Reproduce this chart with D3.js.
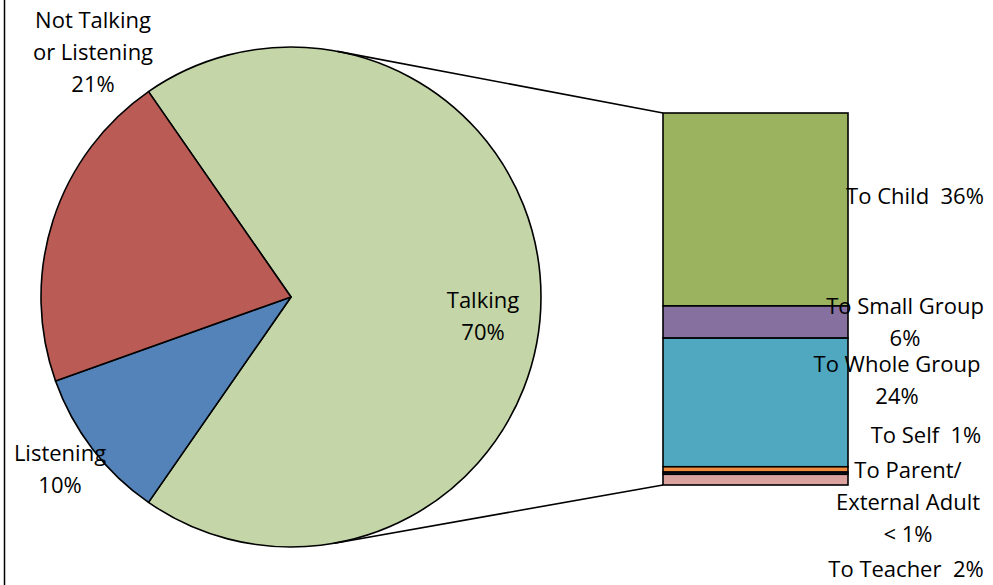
<!DOCTYPE html>
<html>
<head>
<meta charset="utf-8">
<script src="https://cdn.jsdelivr.net/npm/d3@7"></script>
<style>
  html, body { margin: 0; padding: 0; background: #fff; }
  svg text { font-family: "Open Sans", Lato, sans-serif; font-size: 22px; fill: #000; }
</style>
</head>
<body>
<svg id="chart" width="993" height="585"></svg>
<script>
// Pie: share of time by activity
const pieCategories = ["Talking", "Listening", "Not Talking or Listening"];
const pieValues = [70, 10, 21];
const pieLabels = [["Talking", "70%"], ["Listening", "10%"], ["Not Talking", "or Listening", "21%"]];
const pieColors = ["#C4D6A8", "#5383B8", "#BA5B55"];

// Stacked bar: breakdown of "Talking"
const barCategories = ["To Child", "To Small Group", "To Whole Group", "To Self", "To Parent/External Adult", "To Teacher"];
const barValues = [36, 6, 24, 1, 0.4, 2];
const barLabels = [["To Child  36%"], ["To Small Group", "6%"], ["To Whole Group", "24%"], ["To Self  1%"], ["To Parent/", "External Adult", "< 1%"], ["To Teacher  2%"]];
const barColors = ["#9BB25F", "#8570A0", "#4FA8C0", "#F08A3C", "#2E4A78", "#DBA29E"];

// Layout
const W = 993, H = 585;
const cx = 291, cy = 297, R = 250;
const barX0 = 663, barX1 = 848, barTop = 113, barBottom = 485;
const lineH = 32;
const pieLabelPos = [[483, 300], [60, 453], [93, 20]];
const barLabelPos = [[915, 196], [905, 306], [897, 364], [926, 435], [908, 470], [906, 569]];

const svg = d3.select("#chart");
svg.append("rect").attr("width", W).attr("height", H).attr("fill", "#fff");
svg.append("line").attr("x1", 4.5).attr("x2", 4.5).attr("y1", 0).attr("y2", H)
  .attr("stroke", "#000").attr("stroke-width", 1.5);

// Pie, with the Talking slice centred on the 3 o'clock direction
const total = d3.sum(pieValues);
const talkSpan = pieValues[0] / total * 2 * Math.PI;
const pie = d3.pie().sort(null).value(d => d)
  .startAngle(Math.PI / 2 - talkSpan / 2)
  .endAngle(Math.PI / 2 - talkSpan / 2 + 2 * Math.PI);
const arc = d3.arc().innerRadius(0).outerRadius(R);
const g = svg.append("g").attr("transform", `translate(${cx},${cy})`);
g.selectAll("path").data(pie(pieValues)).join("path")
  .attr("d", arc)
  .attr("fill", (d, i) => pieColors[i])
  .attr("stroke", "#000").attr("stroke-width", 1.6).attr("stroke-linejoin", "round");

// Bar
const y = d3.scaleLinear().domain([0, d3.sum(barValues)]).range([barTop, barBottom]);
const stacked = [];
let acc = 0;
barValues.forEach((v, i) => { stacked.push({ i, y0: acc, y1: acc + v }); acc += v; });
svg.selectAll("rect.seg").data(stacked).join("rect").attr("class", "seg")
  .attr("x", barX0).attr("width", barX1 - barX0)
  .attr("y", d => y(d.y0)).attr("height", d => y(d.y1) - y(d.y0))
  .attr("fill", d => barColors[d.i])
  .attr("stroke", "#000").attr("stroke-width", 1.6);

// Connector lines: tangent from each bar corner to the pie
function tangent(px, py, upper) {
  const dx = px - cx, dy = py - cy;
  const d = Math.hypot(dx, dy);
  const base = Math.atan2(dy, dx);
  const off = Math.acos(R / d);
  const a = upper ? base - off : base + off;
  return [cx + R * Math.cos(a), cy + R * Math.sin(a)];
}
[[barX0, y(0), true], [barX0, y(d3.sum(barValues)), false]].forEach(([px, py, up]) => {
  const t = tangent(px, py, up);
  svg.append("line").attr("x1", t[0]).attr("y1", t[1]).attr("x2", px).attr("y2", py)
    .attr("stroke", "#000").attr("stroke-width", 1.6);
});

// Labels
function drawLabel(lines, pos) {
  const t = svg.append("text").attr("text-anchor", "middle");
  lines.forEach((s, k) => {
    t.append("tspan").attr("x", pos[0]).attr("y", pos[1] + k * lineH).attr("dy", "0.35em")
      .style("white-space", "pre").text(s);
  });
}
pieLabels.forEach((l, i) => drawLabel(l, pieLabelPos[i]));
barLabels.forEach((l, i) => drawLabel(l, barLabelPos[i]));
</script>
</body>
</html>
